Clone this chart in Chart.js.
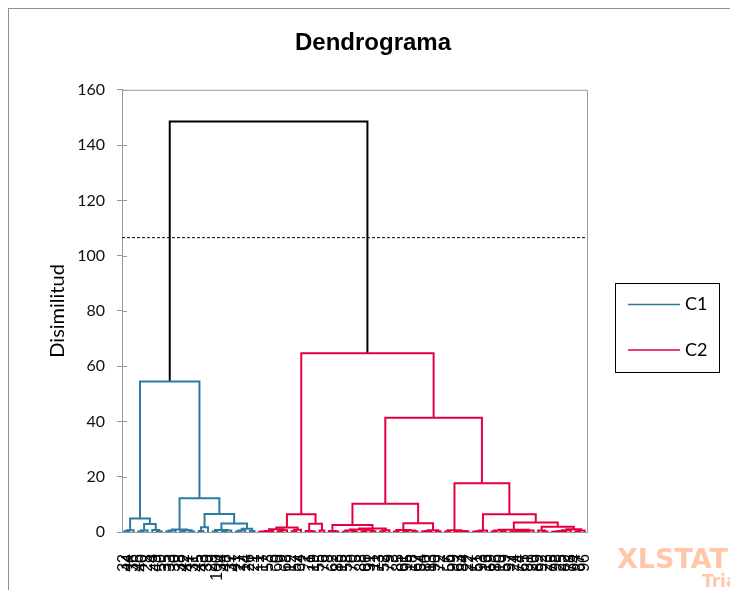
<!DOCTYPE html>
<html>
<head>
<meta charset="utf-8">
<title>Dendrograma</title>
<script src="https://cdn.jsdelivr.net/npm/chart.js@4.4.1/dist/chart.umd.min.js"></script>
<style>
  html, body { margin: 0; padding: 0; background: #fff; overflow: hidden; }
  #frame { position: absolute; left: 8px; top: 8px; width: 728px; height: 600px; border: 1px solid #8f8f8f; }
  #dendro { display: block; }
</style>
</head>
<body>
<div id="frame"><canvas id="dendro" width="728" height="590"></canvas></div>
<script>
// observations, in the order they sit along the x axis
const leafLabels = [
  "32", "44", "36", "46", "40", "28", "4", "49", "50", "35",
  "33", "30", "38", "42", "47", "31", "45", "43", "39", "29",
  "100", "34", "48", "37", "41", "27", "14", "26", "21",
  "1", "17", "53", "6", "60", "9", "68", "12", "57", "64",
  "2", "71", "19", "55", "76", "8", "62", "83", "15", "58",
  "70", "5", "88", "66", "91", "11", "73", "52", "79", "3",
  "85", "61", "95", "18", "67", "54", "80", "13", "90", "72",
  "7", "56", "99", "63", "84", "22", "77", "51", "93", "16",
  "69", "86", "10", "59", "97", "24", "74", "65", "81", "20",
  "89", "92", "23", "75", "98", "25", "82", "78", "94", "87", "96"
];

// linkage : ids 0..99 = leaves (x position), id 100+k = merge k
const mergeA = [
  0, 100, 3, 102, 7, 6, 103, 101, 9, 108,
  12, 14, 110, 109, 16, 114, 19, 21, 117, 116,
  24, 120, 27, 121, 119, 115, 113, 107, 29, 128,
  129, 33, 131, 130, 36, 134, 133, 40, 39, 42,
  138, 136, 45, 44, 47, 49, 144, 51, 53, 147,
  146, 55, 151, 150, 143, 58, 60, 62, 156, 155,
  64, 160, 67, 161, 159, 154, 69, 71, 73, 167,
  166, 75, 171, 172, 79, 81, 174, 83, 177, 178,
  179, 180, 176, 90, 89, 92, 185, 186, 187, 97,
  189, 188, 184, 182, 173, 170, 165, 141, 127
];
const mergeB = [
  1, 2, 4, 5, 8, 104, 105, 106, 10, 11,
  13, 15, 111, 112, 17, 18, 20, 22, 23, 118,
  25, 26, 28, 122, 123, 124, 125, 126, 30, 31,
  32, 34, 35, 132, 37, 38, 135, 41, 137, 43,
  139, 140, 46, 142, 48, 50, 145, 52, 54, 148,
  149, 56, 57, 152, 153, 59, 61, 63, 157, 158,
  65, 66, 68, 162, 163, 164, 70, 72, 74, 168,
  169, 76, 77, 78, 80, 82, 175, 84, 85, 86,
  87, 88, 181, 91, 183, 93, 94, 95, 96, 98,
  99, 190, 191, 192, 193, 194, 195, 196, 197
];
const mergeH = [
  0.3, 0.6, 0.2, 0.5, 0.3, 0.7, 2.9, 4.9, 0.2, 0.5,
  0.3, 0.2, 0.6, 0.9, 0.4, 1.7, 0.2, 0.3, 0.5, 0.7,
  0.2, 0.5, 0.4, 1.2, 3.1, 6.5, 12.2, 54.5, 0.1, 0.2,
  0.4, 0.3, 0.6, 1.0, 0.3, 0.8, 1.6, 0.2, 0.4, 0.5,
  3.0, 6.4, 0.2, 0.4, 0.1, 0.2, 0.5, 0.2, 0.3, 0.6,
  0.9, 0.2, 0.6, 1.3, 2.5, 0.2, 0.1, 0.3, 0.5, 0.7,
  0.2, 0.4, 0.3, 0.6, 3.2, 10.2, 0.2, 0.1, 0.3, 0.4,
  0.6, 0.1, 0.3, 0.5, 0.2, 0.3, 0.5, 0.1, 0.2, 0.3,
  0.4, 0.5, 0.8, 0.2, 0.5, 0.1, 0.2, 0.4, 0.6, 0.3,
  0.5, 1.0, 1.9, 3.4, 6.4, 17.6, 41.3, 64.7, 148.5
];

const clusterNames = ["C1", "C2"];
const clusterRoots = [127, 197];
const clusterColors = ["#2b7aa1", "#e4003f"];
const cutHeight = 106.5;

// node positions: leaf = its index, merge = middle of its two children
const N = leafLabels.length;
const nodeX = [];
const nodeH = [];
for (let i = 0; i < N; i++) {
  nodeX[i] = i;
  nodeH[i] = 0;
}
mergeA.forEach(function (a, k) {
  nodeX[N + k] = (nodeX[a] + nodeX[mergeB[k]]) / 2;
  nodeH[N + k] = mergeH[k];
});

const nodeColor = [];
function paint(id, color) {
  nodeColor[id] = color;
  if (id >= N) {
    paint(mergeA[id - N], color);
    paint(mergeB[id - N], color);
  }
}
clusterRoots.forEach(function (r, c) { paint(r, clusterColors[c]); });

const linkSets = mergeA.map(function (a, k) {
  const b = mergeB[k];
  return {
    data: [
      { x: nodeX[a], y: nodeH[a] },
      { x: nodeX[a], y: mergeH[k] },
      { x: nodeX[b], y: mergeH[k] },
      { x: nodeX[b], y: nodeH[b] },
    ],
    borderColor: nodeColor[N + k] || "#000",
    borderWidth: 2,
    showLine: true,
    pointRadius: 0,
  };
});

linkSets.push({
  data: [{ x: -0.5, y: cutHeight }, { x: N - 0.5, y: cutHeight }],
  borderColor: "#000",
  borderWidth: 1,
  borderDash: [3, 2],
  showLine: true,
  pointRadius: 0,
});

// top/right edges of the plot area + inner half of the y ticks
const plotFrame = {
  id: "plotFrame",
  beforeDatasetsDraw(chart) {
    const { ctx, chartArea: a, scales: { y } } = chart;
    ctx.save();
    ctx.strokeStyle = "#9a9a9a";
    ctx.lineWidth = 1;
    ctx.beginPath();
    ctx.moveTo(a.left, a.top + 0.5);
    ctx.lineTo(a.right + 0.5, a.top + 0.5);
    ctx.lineTo(a.right + 0.5, a.bottom);
    y.ticks.forEach(function (t) {
      const py = Math.round(y.getPixelForValue(t.value)) + 0.5;
      ctx.moveTo(a.left, py);
      ctx.lineTo(a.left + 5, py);
    });
    ctx.stroke();
    ctx.restore();
  },
};

const clusterLegend = {
  id: "clusterLegend",
  afterDraw(chart) {
    const { ctx, chartArea: a } = chart;
    const left = Math.round(a.right) + 28;
    const top = Math.round(a.top) + 193;
    ctx.save();
    ctx.strokeStyle = "#000";
    ctx.lineWidth = 1;
    ctx.strokeRect(left + 0.5, top + 0.5, 104, 89);
    ctx.font = "18px Lato";
    ctx.textBaseline = "middle";
    ctx.fillStyle = "#000";
    ctx.lineWidth = 1.5;
    clusterNames.forEach(function (name, i) {
      const cy = top + 21.5 + i * 45.5;
      ctx.strokeStyle = clusterColors[i];
      ctx.beginPath();
      ctx.moveTo(left + 13, cy);
      ctx.lineTo(left + 65, cy);
      ctx.stroke();
      ctx.fillText(name, left + 70, cy);
    });
    // trial watermark
    ctx.textBaseline = "alphabetic";
    ctx.fillStyle = "rgba(255, 128, 64, 0.45)";
    ctx.font = "bold 27px 'DejaVu Sans'";
    ctx.fillText("XLSTAT", 608, 559);
    ctx.font = "bold 17px 'DejaVu Sans'";
    ctx.fillText("Trial", 693, 578);
    ctx.restore();
  },
};

Chart.defaults.font.family = "Lato";
Chart.defaults.color = "#111";

const ctx = document.getElementById("dendro").getContext("2d");
const chart = new Chart(ctx, {
  type: "scatter",
  data: { datasets: linkSets },
  options: {
    responsive: false,
    animation: false,
    events: [],
    plugins: {
      legend: { display: false },
      tooltip: { enabled: false },
      title: {
        display: true,
        text: "Dendrograma",
        color: "#000",
        font: { family: "'Liberation Sans', Arial", size: 24, weight: "bold" },
        padding: { top: 20, bottom: 32 },
      },
    },
    scales: {
      x: {
        type: "linear",
        min: -0.5,
        max: N - 0.5,
        afterBuildTicks: function (scale) {
          scale.ticks = leafLabels.map(function (l, i) { return { value: i }; });
        },
        afterFit: function (scale) {
          scale.height = 67;
          scale.paddingRight = 150;
        },
        grid: { display: false, drawTicks: false },
        border: { color: "#9a9a9a" },
        ticks: {
          autoSkip: false,
          minRotation: 90,
          maxRotation: 90,
          padding: 22,
          color: "#000",
          font: { family: "'Liberation Sans', Arial", size: 16 },
          callback: function (value) {
            return leafLabels[value];
          },
        },
      },
      y: {
        min: 0,
        max: 160,
        afterFit: function (scale) {
          scale.width = 113;
        },
        grid: { drawOnChartArea: false, tickLength: 5, color: "#9a9a9a" },
        border: { color: "#9a9a9a" },
        ticks: { stepSize: 20, padding: 12, color: "#111", font: { size: 16 } },
        title: {
          display: true,
          text: "Disimilitud",
          color: "#000",
          font: { size: 20 },
          padding: { top: 37 },
        },
      },
    },
  },
  plugins: [plotFrame, clusterLegend],
});
</script>
</body>
</html>
